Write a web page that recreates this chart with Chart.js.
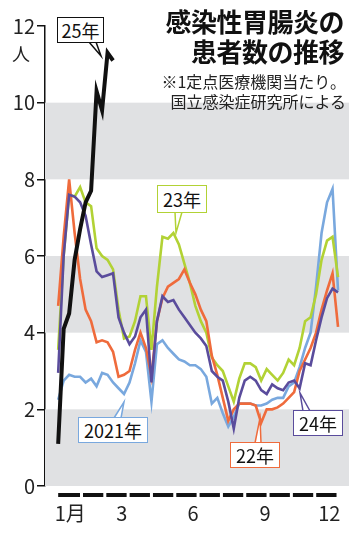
<!DOCTYPE html>
<html lang="ja">
<head>
<meta charset="utf-8">
<script src="https://cdn.jsdelivr.net/npm/chart.js@4/dist/chart.umd.min.js"></script>
<style>
body { margin: 0; background: #fff; }
#wrap { position: relative; width: 360px; height: 534px; overflow: hidden; font-family: "Noto Sans CJK JP", sans-serif; }
#chart { position: absolute; left: 0; top: 0; }
.title { position: absolute; right: 16px; top: 6px; font-size: 26px; font-weight: 700; line-height: 30px; text-align: right; color: #111; letter-spacing: -0.5px; }
.note { position: absolute; right: 14px; top: 71px; font-size: 16px; line-height: 20px; text-align: right; color: #222; }
.unit { position: absolute; left: 12px; top: 40px; font-size: 18px; color: #222; }
.tag { position: absolute; box-sizing: border-box; background: #fff; border: 1.5px solid; color: #111;
       font-size: 18px; display: flex; align-items: center; justify-content: center; }
</style>
</head>
<body>
<div id="wrap">
  <canvas id="chart" width="360" height="534"></canvas>
  <div class="title">感染性胃腸炎の<br>患者数の推移</div>
  <div class="note">※1定点医療機関当たり。<br>国立感染症研究所による</div>
  <div class="unit">人</div>
  <div class="tag" style="left:57px;top:17px;width:47px;height:26px;border-color:#111">25年</div>
  <div class="tag" style="left:157px;top:185px;width:50px;height:28px;border-color:#b2d235">23年</div>
  <div class="tag" style="left:78px;top:417px;width:70px;height:26px;border-color:#79a8de">2021年</div>
  <div class="tag" style="left:230px;top:442px;width:50px;height:26px;border-color:#ef6b3c">22年</div>
  <div class="tag" style="left:293px;top:410px;width:50px;height:26px;border-color:#5a4c9c">24年</div>
</div>
<script>
// weekly values per sentinel site (week 1 .. 52)
const y2021 = [2.25, 2.75, 2.9, 2.85, 2.85, 2.7, 2.8, 2.6, 2.95, 2.9, 2.7, 2.55, 2.4, 2.7, 3.2, 3.8, 3.5, 2.2,
    3.7, 3.8, 3.6, 3.45, 3.3, 3.25, 3.15, 3.15, 3.05, 2.85, 2.15, 2.3, 1.9, 1.55, 1.8, 2.15, 2.15, 2.15,
    2.1, 2.1, 2.15, 2.25, 2.3, 2.3, 2.6, 2.7, 3.1, 3.6, 4.0, 5.2, 6.6, 7.4, 7.75, 5.1];
const y2022 = [4.7, 6.5, 8.0, 6.6, 5.4, 4.6, 4.3, 3.75, 3.8, 3.75, 3.5, 2.85, 2.9, 3.0, 3.55, 4.0, 3.6, 2.85,
    4.3, 4.9, 5.2, 5.3, 5.4, 5.65, 5.3, 5.0, 4.6, 4.3, 3.4, 2.9, 2.3, 1.7, 2.0, 2.15, 2.15, 2.15,
    2.1, 1.65, 2.0, 2.0, 2.05, 2.15, 2.3, 2.45, 3.0, 3.3, 3.6, 4.0, 4.6, 5.1, 5.55, 4.15];
const y2023 = [3.55, 6.0, 7.6, 7.55, 7.8, 7.4, 7.3, 6.2, 6.0, 5.9, 5.65, 4.6, 3.85, 3.9, 4.3, 4.95, 4.95, 3.55,
    5.2, 6.5, 6.45, 6.6, 6.3, 5.8, 5.3, 4.7, 4.3, 4.0, 3.35, 3.15, 3.0, 2.6, 2.2, 2.8, 3.2, 3.2,
    3.1, 2.75, 3.05, 2.9, 2.75, 2.95, 3.3, 3.15, 3.6, 4.3, 4.4, 5.0, 5.9, 6.4, 6.5, 5.45];
const y2024 = [2.95, 6.0, 7.6, 7.55, 7.4, 7.05, 6.3, 5.6, 5.45, 5.5, 5.55, 4.4, 4.0, 3.7, 3.9, 4.4, 4.6, 2.7,
    4.3, 4.95, 4.8, 4.85, 4.6, 4.4, 4.2, 4.0, 3.85, 3.65, 3.0, 2.85, 2.75, 2.2, 1.5, 2.3, 2.75, 2.85,
    2.75, 2.5, 2.4, 2.65, 2.55, 2.5, 2.7, 2.75, 2.55, 3.2, 3.15, 3.8, 4.4, 4.9, 5.15, 5.05];
const y2025 = [1.1, 4.1, 4.5, 5.9, 6.7, 7.4, 7.7, 10.3, 9.8, 11.3, 11.1];

const monthTicks = [2.2, 11.6, 24.6, 37.7, 49.4];
const monthLabels = ['1月', '3', '6', '9', '12'];
const bands = [[0, 2], [4, 6], [8, 10]];

function toPoints(arr) {
    return arr.map((v, i) => ({ x: i, y: v }));
}

// grey bands behind the lines, month dashes under the axis, callout tails
const decor = {
    id: 'decor',
    beforeDatasetsDraw(chart) {
        const { ctx, chartArea, scales } = chart;
        ctx.save();
        ctx.fillStyle = '#e0e1e3';
        bands.forEach(([lo, hi]) => {
            const top = scales.y.getPixelForValue(hi);
            const bottom = scales.y.getPixelForValue(lo);
            ctx.fillRect(chartArea.left, top, chartArea.right - chartArea.left, bottom - top);
        });
        ctx.restore();
    },
    afterDraw(chart) {
        const { ctx, scales } = chart;
        ctx.save();
        // month dashes
        const x0 = scales.x.getPixelForValue(0);
        const x1 = scales.x.getPixelForValue(51);
        const w = (x1 - x0) / 12;
        ctx.strokeStyle = '#111';
        ctx.lineWidth = 4;
        for (let m = 0; m < 12; m++) {
            ctx.beginPath();
            ctx.moveTo(x0 + m * w + (m ? 1.5 : 0), 495);
            ctx.lineTo(x0 + (m + 1) * w - 1.5, 495);
            ctx.stroke();
        }
        // callout tails
        const tails = [
            ['#111', 89, 96, 42, 101, 56],
            ['#b2d235', 175, 182, 212, 176, 233],
            ['#79a8de', 114, 121, 418, 124, 402],
            ['#ef6b3c', 255, 261, 443, 260, 418],
            ['#5a4c9c', 303, 310, 411, 300, 393]
        ];
        ctx.lineWidth = 1.5;
        tails.forEach(([c, a, b, y, tx, ty]) => {
            ctx.beginPath();
            ctx.moveTo(a, y);
            ctx.lineTo(tx, ty);
            ctx.lineTo(b, y);
            ctx.fillStyle = '#fff';
            ctx.fill();
            ctx.strokeStyle = c;
            ctx.stroke();
        });
        ctx.restore();
    }
};

function line(data, color, width) {
    return {
        data: toPoints(data),
        borderColor: color,
        borderWidth: width,
        pointRadius: 0,
        tension: 0,
        fill: false
    };
}

const ctx = document.getElementById('chart').getContext('2d');
new Chart(ctx, {
    type: 'line',
    data: {
        datasets: [
            line(y2025, '#111111', 4),
            line(y2024, '#5a4c9c', 2.6),
            line(y2022, '#ef6b3c', 2.6),
            line(y2023, '#b2d235', 2.6),
            line(y2021, '#79a8de', 2.6)
        ]
    },
    options: {
        responsive: false,
        animation: false,
        events: [],
        layout: { padding: { top: 26, right: 11, left: 0, bottom: 0 } },
        plugins: { legend: { display: false }, tooltip: { enabled: false } },
        scales: {
            x: {
                type: 'linear',
                min: -2.4,
                max: 53,
                border: { display: false },
                grid: { display: false, drawTicks: false },
                afterBuildTicks: axis => { axis.ticks = monthTicks.map(v => ({ value: v })); },
                afterFit: s => { s.height = 48; },
                ticks: {
                    autoSkip: false,
                    maxRotation: 0,
                    padding: 15,
                    color: '#222',
                    font: { family: 'Noto Sans CJK JP', size: 20 },
                    callback: (v, i) => monthLabels[i]
                }
            },
            y: {
                min: 0,
                max: 12,
                border: { display: true, color: '#111', width: 1.5 },
                grid: { drawOnChartArea: false, drawTicks: true, tickLength: 8, color: '#111', lineWidth: 1.5 },
                afterFit: s => { s.width = 45; },
                ticks: {
                    stepSize: 2,
                    padding: 2,
                    color: '#222',
                    font: { family: 'Noto Sans CJK JP', size: 20 }
                }
            }
        }
    },
    plugins: [decor]
});
</script>
</body>
</html>
